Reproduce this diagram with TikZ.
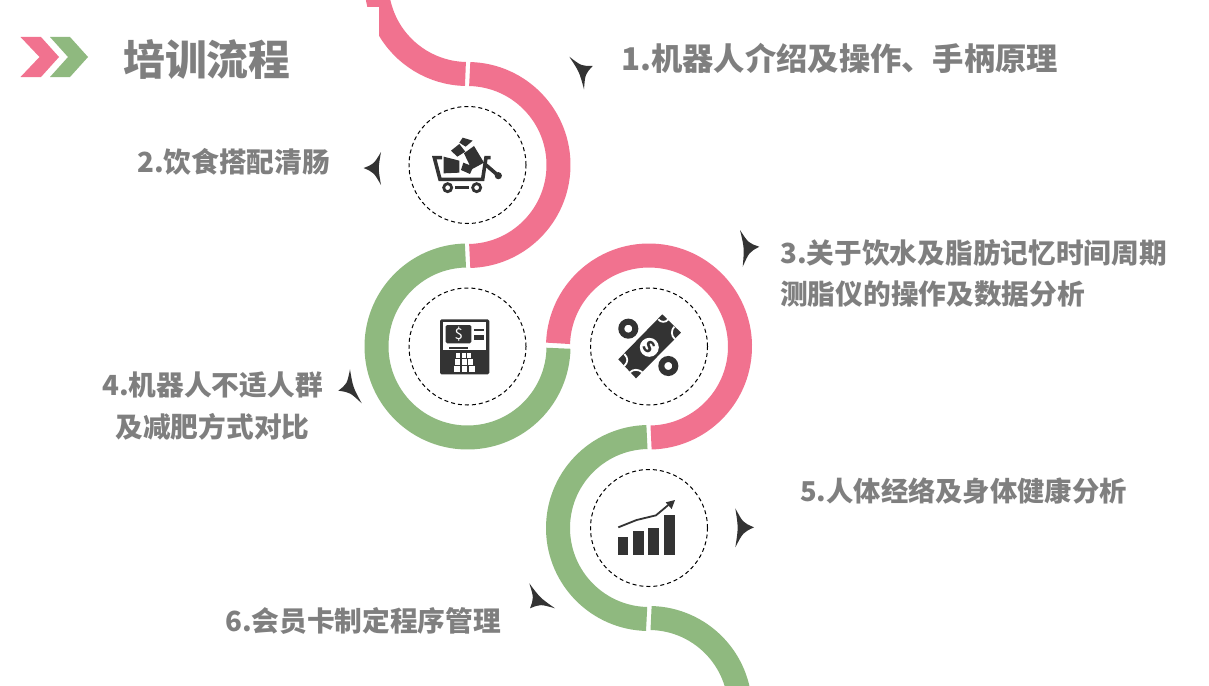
\documentclass[tikz,border=0pt]{standalone}
\usepackage{fontspec}
\usepackage{xcolor}
\setmainfont{Noto Sans CJK SC}
\definecolor{bandpink}{HTML}{F1728F}
\definecolor{bandgreen}{HTML}{8FB97F}
\definecolor{icondark}{HTML}{333333}
\definecolor{textgray}{HTML}{7F7F7F}
\newcommand{\bandarc}[5]{\draw[band,#1] ([shift={(#3:91pt)}]#2) arc[start angle=#3,end angle=#4,radius=91pt];}
\newcommand{\tipmark}[3]{\fill[tipfill] #1 .. controls ($5/12*#1+5/12*#2+2/12*#3$) .. #2 .. controls ($2/12*#1+5/12*#2+5/12*#3$) .. #3 .. controls ($5/12*#1+2/12*#2+5/12*#3$) .. #1 -- cycle;}
\usetikzlibrary{calc}
\begin{document}
\begin{tikzpicture}[x=1pt,y=-1pt,
    band/.style={line width=24pt},
    ringdash/.style={draw=black,line width=1pt,dash pattern=on 4pt off 3pt},
    tipfill/.style={fill=icondark},
    iconfill/.style={fill=icondark,draw=none},
    iconline/.style={draw=icondark,line width=3.6pt},
    titletext/.style={font=\fontsize{41.8}{48}\selectfont\bfseries,text=textgray,inner sep=0pt},
    steptext/.style={font=\fontsize{27.7}{42}\selectfont\bfseries,text=textgray,inner sep=0pt,align=center},
    firsttext/.style={font=\fontsize{31.3}{44}\selectfont\bfseries,text=textgray,inner sep=0pt}
  ]
    \useasboundingbox (0,0) rectangle (1209,685);
    \clip (0,0) rectangle (1209,685);
    \fill[white] (0,0) rectangle (1209,685);

    \coordinate (ctrtop) at (467.5,-17);
    \coordinate (ctrcart) at (467.5,165);
    \coordinate (ctratm) at (467.5,346.5);
    \coordinate (ctrmoney) at (649,346.5);
    \coordinate (ctrchart) at (649,528);
    \coordinate (ctrbottom) at (649,709);

    % bands
    \bandarc{bandpink}{ctrtop}{-91.3}{-200}{}
    \fill[white] (360,7) rectangle (379,36);
    \bandarc{bandpink}{ctrcart}{88.6}{-88.6}{}
    \bandarc{bandgreen}{ctratm}{91.3}{358.9}{}
    \bandarc{bandpink}{ctrmoney}{178}{-88.7}{}
    \bandarc{bandgreen}{ctrchart}{91.3}{268.5}{}
    \bandarc{bandgreen}{ctrbottom}{88.7}{0}{}

    % dashed rings
    \draw[ringdash] (ctrcart) circle[radius=58.5pt];
    \draw[ringdash] (ctratm) circle[radius=58.5pt];
    \draw[ringdash] (ctrmoney) circle[radius=58.5pt];
    \draw[ringdash] (ctrchart) circle[radius=58.5pt];

    % title
    \fill[bandpink] (20.5,37) -- (41,37) -- (59,57) -- (41,77) -- (20.5,77) -- (39.5,57) -- cycle;
    \fill[bandgreen] (50,37) -- (70,37) -- (88,57) -- (70,77) -- (50,77) -- (68,57) -- cycle;
    \node[titletext,anchor=west] (title) at (123,60) {培训流程};

    % texts
    \node[firsttext,anchor=west] (stepa) at (621,58) {1.机器人介绍及操作、手柄原理};
    \node[steptext,anchor=west] (stepb) at (137,162) {2.饮食搭配清肠};
    \node[steptext,anchor=west] (stepc) at (780,253) {3.关于饮水及脂肪记忆时间周期};
    \node[steptext,anchor=west] (stepcc) at (780,294) {测脂仪的操作及数据分析};
    \node[steptext] (stepd) at (212.5,406) {4.机器人不适人群\\及减肥方式对比};
    \node[steptext,anchor=west,font=\fontsize{27.3}{42}\selectfont\bfseries] (stepe) at (800,491) {5.人体经络及身体健康分析};
    \node[steptext,anchor=west] (stepf) at (225,621) {6.会员卡制定程序管理};

    % tips
    \tipmark{(569.3,56.7)}{(592.7,66)}{(584,89.3)}
    \tipmark{(381,152)}{(363.6,168)}{(381,185)}
    \tipmark{(740,230)}{(759.3,246.7)}{(742.7,266.7)}
    \tipmark{(350,369.3)}{(361.7,403.3)}{(338.3,390.7)}
    \tipmark{(735.3,508.3)}{(754,527.3)}{(735.3,547.3)}
    \tipmark{(529.3,583.3)}{(555,608.3)}{(530,608.3)}

    % cart
    \begin{scope}[shift={(400,120)},x=.3333pt,y=-.3333pt]
        \draw[iconline,line join=miter] (126,113) -- (103,113) -- (120,178) -- (248,178) -- (258,113) -- (272,113);
        \draw[iconline] (258,135) -- (295,167);
        \fill[iconfill] (295,167) circle[radius=3.6pt];
        \draw[iconline,line width=2.8pt] (143,203) circle[radius=4pt];
        \draw[iconline,line width=2.8pt] (230,203) circle[radius=4pt];
        \fill[iconfill] (165,199) rectangle (207,207);
        \fill[iconfill] (131,110) -- (178,122) -- (178,158) -- (131,160) -- cycle;
        \fill[iconfill] (222,78) -- (252,128) -- (215,148) -- (192,100) -- cycle;
        \fill[iconfill] (190,128) -- (220,140) -- (210,162) -- (183,150) -- cycle;
        \fill[iconfill] (178,72) -- (196,95) -- (172,110) -- (153,92) -- cycle;
        \fill[iconfill] (188,53) -- (218,62) -- (197,80) -- (178,68) -- cycle;
    \end{scope}

    % atm
    \begin{scope}[shift={(410,290)},x=.3333pt,y=-.3333pt]
        \fill[iconfill,rounded corners=1.5pt] (90,88) rectangle (238,253);
        \fill[white] (100,97) rectangle (229,180);
        \fill[iconfill,rounded corners=1.5pt] (107,105) rectangle (184,160);
        \node[text=white,font=\fontsize{15}{15}\selectfont,inner sep=0pt] (atmsign) at (146,133) {\$};
        \fill[iconfill] (192,117) rectangle (222,124);
        \fill[iconfill] (192,134) rectangle (222,150);
        \fill[iconfill] (117,170) rectangle (175,176);
        \foreach \keyx in {0,1,2} {
            \fill[white] (138+\keyx*17,190) rectangle (150+\keyx*17,205);
            \fill[white] (135+\keyx*20,208) rectangle (150+\keyx*20,224);
            \fill[white] (132+\keyx*23,228) rectangle (149+\keyx*23,245);
        }
    \end{scope}

    % money
    \begin{scope}[shift={(410,290)},x=.3333pt,y=-.3333pt]
        \fill[iconfill] (757,73) -- (813,128) -- (678,265) -- (625,208) -- cycle;
        \draw[white,line width=1.8pt] (745,88) .. controls (752,98) and (768,98) .. (775,88);
        \draw[white,line width=1.8pt] (793,110) .. controls (783,120) and (783,138) .. (795,147);
        \draw[white,line width=1.8pt] (660,247) .. controls (670,237) and (685,237) .. (697,247);
        \draw[white,line width=1.8pt] (643,192) .. controls (655,205) and (655,215) .. (643,228);
        \fill[white] (718,172) circle[radius=9.5pt];
        \node[text=icondark,font=\fontsize{16}{16}\selectfont\bfseries,rotate=-45,inner sep=0pt] (moneysign) at (718,172) {S};
        \draw[icondark,line width=6pt] (655,116) circle[radius=7pt];
        \draw[icondark,line width=6pt] (775,228) circle[radius=7pt];
    \end{scope}

    % chart
    \begin{scope}[shift={(520,470)},x=.3333pt,y=-.3333pt]
        \fill[iconfill] (294,201) rectangle (324,255);
        \fill[iconfill] (339,183) rectangle (372,255);
        \fill[iconfill] (384,174) rectangle (417,255);
        \fill[iconfill] (432,135) rectangle (465,255);
        \draw[icondark,line width=1.8pt] (295,172) -- (350,150) -- (408,136) -- (445,105);
        \fill[iconfill] (465,90) -- (437,97) -- (455,117) -- cycle;
    \end{scope}
\end{tikzpicture}
\end{document}
